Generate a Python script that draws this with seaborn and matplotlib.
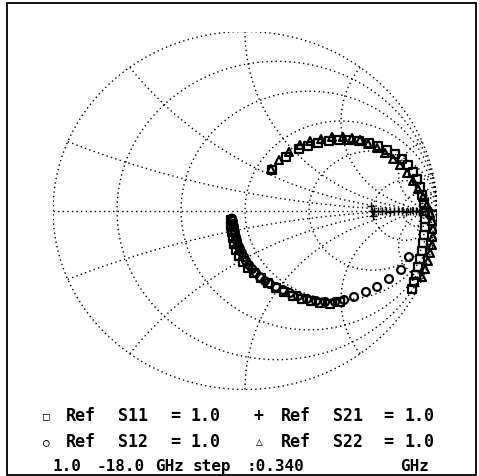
import matplotlib
matplotlib.use("Agg")
import matplotlib.pyplot as plt
import numpy as np
import seaborn as sns
from matplotlib.patches import Rectangle


S11_RE = [-0.073, -0.073, -0.068, -0.063, -0.057, -0.047, -0.031, -0.010, 0.016, 0.047,
          0.083, 0.120, 0.161, 0.203, 0.250, 0.297, 0.344, 0.391, 0.443, 0.495,
          0.870, 0.880, 0.891, 0.901, 0.911, 0.922, 0.927, 0.932, 0.938, 0.938,
          0.938, 0.932, 0.922, 0.911, 0.896, 0.875, 0.849, 0.818, 0.781, 0.740,
          0.693, 0.646, 0.594, 0.542, 0.490, 0.438, 0.380, 0.328, 0.281, 0.214, 0.141]
S11_IM = [-0.053, -0.087, -0.120, -0.154, -0.187, -0.221, -0.254, -0.288, -0.321, -0.349,
          -0.377, -0.405, -0.433, -0.455, -0.478, -0.494, -0.506, -0.517, -0.522, -0.511,
          -0.439, -0.400, -0.360, -0.316, -0.271, -0.226, -0.182, -0.137, -0.092, -0.047,
          -0.003, 0.042, 0.087, 0.131, 0.176, 0.215, 0.254, 0.288, 0.316, 0.338,
          0.360, 0.377, 0.388, 0.394, 0.394, 0.388, 0.377, 0.360, 0.344, 0.299, 0.226]

S12_RE = [-0.068, -0.063, -0.063, -0.060, -0.057, -0.057, -0.055, -0.052, -0.047, -0.045,
          -0.042, -0.037, -0.031, -0.026, -0.016, -0.005, 0.005, 0.021, 0.037, 0.057,
          0.078, 0.104, 0.130, 0.162, 0.198, 0.234, 0.276, 0.323, 0.370, 0.417,
          0.469, 0.516, 0.568, 0.630, 0.688, 0.750, 0.813, 0.854]
S12_IM = [-0.045, -0.059, -0.075, -0.084, -0.092, -0.109, -0.118, -0.126, -0.148, -0.159,
          -0.170, -0.193, -0.204, -0.215, -0.237, -0.260, -0.282, -0.305, -0.327, -0.349,
          -0.372, -0.394, -0.411, -0.427, -0.444, -0.461, -0.478, -0.494, -0.506, -0.511,
          -0.511, -0.500, -0.483, -0.455, -0.427, -0.383, -0.332, -0.260]

S21_RE = [0.656, 0.661, 0.667, 0.672, 0.693, 0.714, 0.734, 0.755, 0.776, 0.797,
          0.818, 0.839, 0.859, 0.875, 0.891, 0.906, 0.922, 0.938, 0.953, 0.969]
S21_IM = [0.025, -0.003, -0.031, -0.003, -0.003, 0.000, -0.003, -0.006, -0.003, 0.000,
          -0.003, -0.006, -0.003, 0.000, -0.003, -0.006, -0.003, 0.000, -0.003, -0.003]

S22_RE = [0.135, 0.177, 0.229, 0.286, 0.339, 0.396, 0.453, 0.510, 0.557, 0.599,
          0.641, 0.688, 0.729, 0.771, 0.807, 0.844, 0.875, 0.901, 0.927, 0.948,
          0.964, 0.974, 0.979, 0.979, 0.974, 0.964, 0.953, 0.938, 0.922]
S22_IM = [0.232, 0.282, 0.327, 0.366, 0.388, 0.399, 0.411, 0.411, 0.405, 0.394,
          0.372, 0.349, 0.321, 0.288, 0.254, 0.209, 0.165, 0.120, 0.075, 0.031,
          -0.014, -0.059, -0.103, -0.148, -0.193, -0.237, -0.282, -0.327, -0.372]

R_CIRCLES = [0.2, 0.5, 1, 2, 5, 10, 20]
X_ARCS = [0.2, 0.5, 1, 2, 5, 10, 20]

LEGEND_ROWS = [
    [("\u25a1", 43, 8), ("Ref", 66, 12), ("S11", 118, 12), ("=", 170, 12), ("1.0", 190, 12),
     ("+", 254, 12), ("Ref", 281, 12), ("S21", 333, 12), ("=", 383, 12), ("1.0", 405, 12)],
    [("\u25cb", 43, 8), ("Ref", 66, 12), ("S12", 118, 12), ("=", 170, 12), ("1.0", 190, 12),
     ("\u25b3", 256, 8), ("Ref", 281, 12), ("S22", 333, 12), ("=", 383, 12), ("1.0", 405, 12)],
    [("1.0", 52, 11.5), ("-18.0", 97, 11.5), ("GHz", 155, 11.5), ("step", 193, 11.5),
     (":0.340", 246, 11.5), ("GHz", 400, 11.5)],
]
ROW_Y = [416, 442, 467]

W, H = 479, 477


def smith_grid(ax):
    dots = dict(color="black", lw=1.0, ls=(0, (1, 2.3)))
    t = np.linspace(0, 2 * np.pi, 500)
    ax.plot(np.cos(t), np.sin(t), **dots)
    ax.plot([-1, 1], [0, 0], **dots)
    for r in R_CIRCLES:
        c, rad = r / (1 + r), 1 / (1 + r)
        ax.plot(c + rad * np.cos(t), rad * np.sin(t), **dots)
    rr = np.concatenate([[0], np.logspace(-3, 3, 500)])
    for x in X_ARCS:
        for sx in (x, -x):
            g = (rr + 1j * sx - 1) / (rr + 1j * sx + 1)
            ax.plot(g.real, g.imag, **dots)


def main() -> None:
    sns.set_theme(style="white")
    plt.rcParams["font.family"] = ["DejaVu Sans Mono", "DejaVu Sans"]

    fig = plt.figure(figsize=(W / 100, H / 100), dpi=100)
    fig.patch.set_facecolor("white")
    ax = fig.add_axes([53 / W, 1 - 390.5 / H, 384 / W, 358 / H])
    smith_grid(ax)

    hollow = dict(facecolor="none", edgecolor="black", linewidth=1.6, ax=ax, legend=False)
    sns.scatterplot(x=S11_RE, y=S11_IM, marker="s", s=28, **hollow)
    sns.scatterplot(x=S12_RE, y=S12_IM, marker="o", s=32, **hollow)
    sns.scatterplot(x=S22_RE, y=S22_IM, marker="^", s=32, **hollow)
    sns.scatterplot(x=S21_RE, y=S21_IM, marker="+", s=26, color="black", linewidth=1.0,
                    ax=ax, legend=False)

    ax.set_xlim(-1, 1)
    ax.set_ylim(-1, 1)
    ax.set_axis_off()

    for row, y in zip(LEGEND_ROWS, ROW_Y):
        for text, x, size in row:
            fig.text(x / W, 1 - y / H, text, fontsize=size, fontweight="bold",
                     ha="left", va="center", color="black")

    fig.add_artist(Rectangle((6.5 / W, 1 - 476 / H), 469.5 / W, 472 / H,
                             transform=fig.transFigure, fill=False, lw=1.3,
                             edgecolor="black"))

    fig.savefig("out.png", dpi=100)
    plt.close(fig)


if __name__ == "__main__":
    main()
